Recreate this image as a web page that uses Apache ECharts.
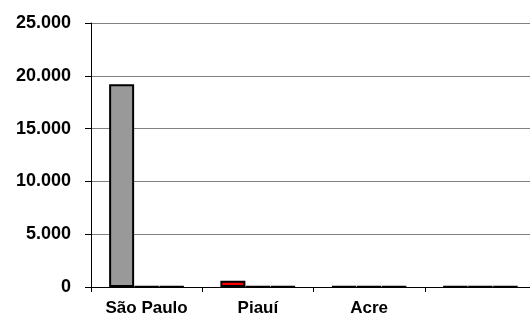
<!DOCTYPE html>
<html>
<head>
<meta charset="utf-8">
<script src="https://cdn.jsdelivr.net/npm/echarts@6/dist/echarts.min.js"></script>
<style>
  html, body { margin: 0; padding: 0; background: #fff; overflow: hidden; }
  /* the drawing surface is a bit wider than the window so the plot runs past the right edge */
  #chart { width: 540px; height: 323px; }
</style>
</head>
<body>
<div id="chart"></div>
<script>
// Categories along the x axis (the fourth one carries no label)
const categories = ['São Paulo', 'Piauí', 'Acre', ''];

// Three series per category
const seriesA = [19200, 600, 50, 50];
const seriesB = [50, 50, 50, 50];
const seriesC = [50, 50, 50, 50];

// Fill colours of the first series, one per category
const seriesAColors = ['#999999', '#ff0000', '#999999', '#999999'];

// Y axis ticks
const yTicks = [0, 5000, 10000, 15000, 20000, 25000];

const fmt = v => String(v).replace(/\B(?=(\d{3})+(?!\d))/g, '.');

const chart = echarts.init(document.getElementById('chart'), null, { renderer: 'canvas' });

const barBase = {
  type: 'bar',
  barWidth: 25,
  barGap: '0%',
  itemStyle: { borderColor: '#000', borderWidth: 2 }
};

chart.setOption({
  animation: false,
  backgroundColor: '#fff',
  textStyle: { fontFamily: 'Liberation Sans' },
  grid: { left: 91, top: 23, width: 445, height: 264, containLabel: false },
  xAxis: {
    type: 'category',
    data: categories,
    boundaryGap: true,
    axisLine: { lineStyle: { color: '#000', width: 1 } },
    axisTick: { show: true, length: 5, lineStyle: { color: '#000' } },
    axisLabel: { color: '#000', fontWeight: 'bold', fontSize: 17, margin: 13, fontFamily: 'Liberation Sans' }
  },
  yAxis: {
    type: 'value',
    min: yTicks[0],
    max: yTicks[yTicks.length - 1],
    interval: yTicks[1] - yTicks[0],
    axisLine: { show: true, lineStyle: { color: '#000', width: 1 } },
    axisTick: { show: true, length: 6, lineStyle: { color: '#000' } },
    splitLine: { show: true, lineStyle: { color: '#808080', width: 1 } },
    axisLabel: { color: '#000', fontWeight: 'bold', fontSize: 18, margin: 20, fontFamily: 'Liberation Sans', formatter: fmt }
  },
  series: [
    Object.assign({}, barBase, {
      name: 'A',
      data: seriesA.map((v, i) => ({ value: v, itemStyle: { color: seriesAColors[i] } }))
    }),
    Object.assign({}, barBase, { name: 'B', data: seriesB, itemStyle: { color: '#666', borderColor: '#000', borderWidth: 2 } }),
    Object.assign({}, barBase, { name: 'C', data: seriesC, itemStyle: { color: '#666', borderColor: '#000', borderWidth: 2 } })
  ]
});
</script>
</body>
</html>
